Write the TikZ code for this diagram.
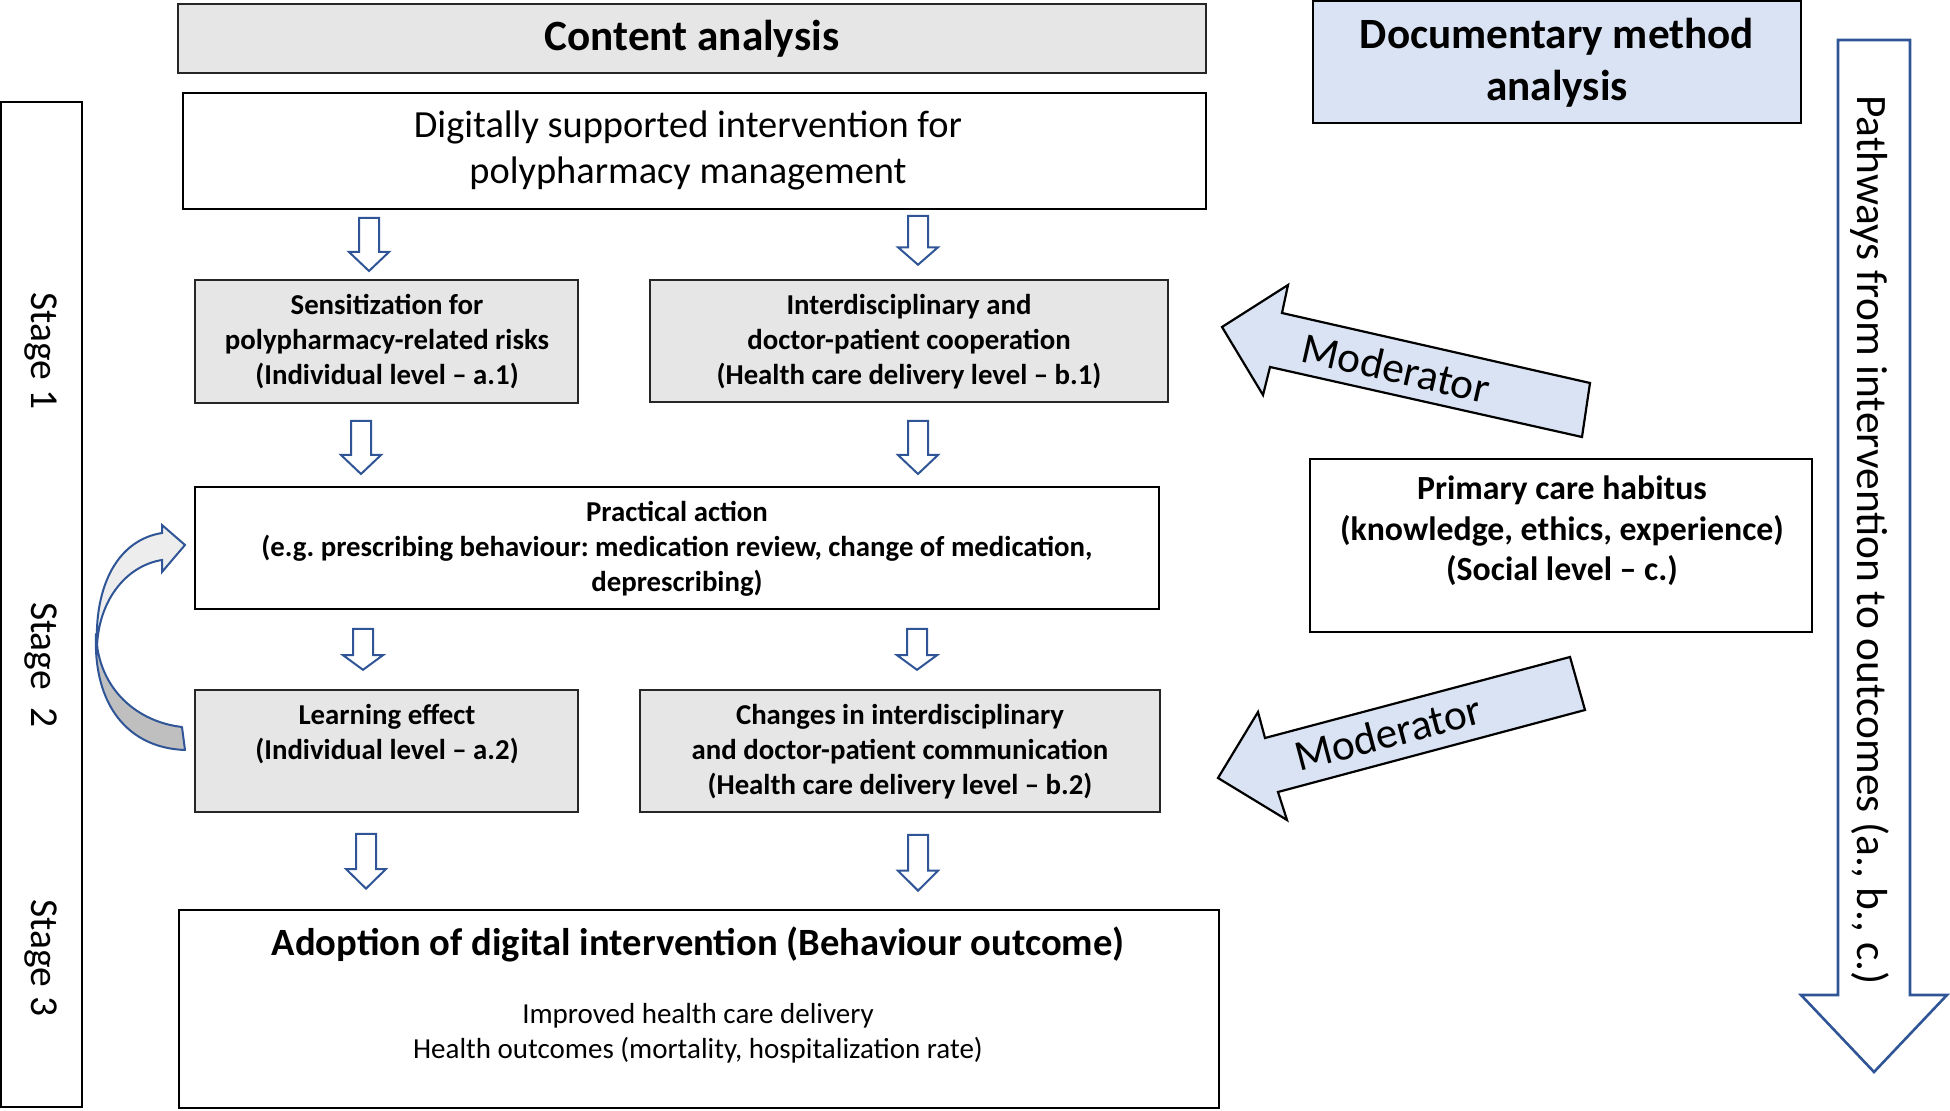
\documentclass[tikz,border=0pt]{standalone}
\usepackage{fontspec}
\setmainfont{Carlito}
\frenchspacing
\definecolor{boxgray}{RGB}{231,230,230}
\definecolor{lightblue}{RGB}{218,227,243}
\definecolor{arrowblue}{RGB}{47,85,151}
\definecolor{curvedark}{RGB}{191,191,191}
\definecolor{curvelight}{RGB}{237,237,237}
\begin{document}
\begin{tikzpicture}[x=0.5pt,y=-0.5pt,
  wbox/.style={draw=black,line width=1.2pt,fill=white,inner sep=0pt},
  gbox/.style={draw=black!85,line width=0.9pt,fill=boxgray,inner sep=0pt},
  bbox/.style={draw=black,line width=1.2pt,fill=lightblue,inner sep=0pt},
  btxt/.style={font=\bfseries\fontsize{14.4}{17.5}\selectfont,align=center,inner sep=0pt},
  rtxt/.style={font=\fontsize{14.5}{17.5}\selectfont,align=center,inner sep=0pt},
  hollowdown/.pic={\draw[arrowblue,line width=1pt,fill=white,line join=miter]
     (-10,0) -- (10,0) -- (10,34) -- (20,34) -- (0,53) -- (-20,34) -- (-10,34) -- cycle;},
  modarrow/.style={draw=black,line width=1.1pt,fill=lightblue,line join=miter}
]
\useasboundingbox (0,0) rectangle (1950,1111);

% Stage column
\node[wbox,minimum width=40.5pt,minimum height=502.5pt] (stage) at (41.5,604.5) {};
\node[font=\fontsize{19.8}{22}\selectfont,rotate=-90] (s1) at (41,351) {Stage 1};
\node[font=\fontsize{19.8}{22}\selectfont,rotate=-90] (s2) at (41,665) {Stage~~2};
\node[font=\fontsize{19.8}{22}\selectfont,rotate=-90] (s3) at (41,958) {Stage 3};

% Header boxes
\node[gbox,line width=1.2pt,minimum width=514pt,minimum height=34.5pt,
      font=\bfseries\fontsize{21.6}{25}\selectfont] (content) at (692,38.5) {Content analysis};
\node[bbox,minimum width=244pt,minimum height=61pt] (doc) at (1557,62) {};
\node[font=\bfseries\fontsize{21.6}{26}\selectfont,align=center] (doctxt) at (1557,63) {Documentary method\\analysis};

% Intervention box
\node[wbox,minimum width=511.5pt,minimum height=58pt] (digital) at (694.5,151) {};
\node[font=\fontsize{19.2}{23}\selectfont,align=center] (digtxt) at (688,150) {Digitally supported intervention for\\polypharmacy management};

% Stage 1 boxes
\node[gbox,minimum width=191.5pt,minimum height=61.5pt] (sens) at (386.5,341.5) {};
\node[btxt] (senstxt) at (387,342) {Sensitization for\\polypharmacy-related risks\\(Individual level -- a.1)};
\node[gbox,minimum width=259pt,minimum height=61pt] (inter) at (909,341) {};
\node[btxt] (intertxt) at (909,342) {Interdisciplinary and\\doctor-patient cooperation\\(Health care delivery level -- b.1)};

% Practical action
\node[wbox,line width=1pt,minimum width=482pt,minimum height=61pt] (prac) at (677,548) {};
\node[btxt] (practxt) at (677,549) {Practical action\\(e.g. prescribing behaviour: medication review, change of medication,\\deprescribing)};

% Stage 2 boxes
\node[gbox,minimum width=191.5pt,minimum height=61pt] (learn) at (386.5,751) {};
\node[btxt] (learntxt) at (387,734) {Learning effect\\(Individual level -- a.2)};
\node[gbox,minimum width=260pt,minimum height=61pt] (changes) at (900,751) {};
\node[btxt] (changestxt) at (900,752) {Changes in interdisciplinary\\and doctor-patient communication\\(Health care delivery level -- b.2)};

% Adoption
\node[wbox,minimum width=520pt,minimum height=99pt] (adopt) at (699,1009) {};
\node[font=\bfseries\fontsize{19.3}{22}\selectfont] (adopttitle) at (698,944) {Adoption of digital intervention (Behaviour outcome)};
\node[rtxt] (adoptsub) at (698,1033) {Improved health care delivery\\Health outcomes (mortality, hospitalization rate)};

% Primary care habitus
\node[wbox,line width=1pt,minimum width=251pt,minimum height=86.5pt] (prim) at (1561,545.5) {};
\node[font=\bfseries\fontsize{16.9}{20.3}\selectfont,align=center] (primtxt) at (1562,531) {Primary care habitus\\(knowledge, ethics, experience)\\(Social level -- c.)};

% Hollow down arrows
\coordinate (a1l) at (369,218); \coordinate (a1r) at (918,216);
\coordinate (a2l) at (361,421); \coordinate (a2r) at (918,421);
\coordinate (a3l) at (363,629); \coordinate (a3r) at (917,629);
\coordinate (a4l) at (366,834); \coordinate (a4r) at (918,835);
\pic at (a1l) {hollowdown};
\pic[yscale=0.92] at (a1r) {hollowdown};
\pic at (a2l) {hollowdown};
\pic at (a2r) {hollowdown};
\pic[yscale=0.77] at (a3l) {hollowdown};
\pic[yscale=0.77] at (a3r) {hollowdown};
\pic[yscale=1.03] at (a4l) {hollowdown};
\pic[yscale=1.05] at (a4r) {hollowdown};

% Moderator arrows
\draw[modarrow] (1222,327) -- (1288,285) -- (1282,313) -- (1590,383) -- (1582,437)
  -- (1270,367) -- (1263,395) -- cycle;
\node[font=\fontsize{21.7}{24}\selectfont,rotate=-12.8] (mod1) at (1396,368) {Moderator};
\draw[modarrow] (1218,778) -- (1258,712) -- (1265,738) -- (1570,657) -- (1585,710)
  -- (1278,792) -- (1287,820) -- cycle;
\node[font=\fontsize{21.7}{24}\selectfont,rotate=14.8] (mod2) at (1388,733) {Moderator};

% Pathways arrow
\draw[arrowblue,line width=1.3pt,fill=white,line join=miter]
  (1838,40) -- (1910,40) -- (1910,995) -- (1947,995) -- (1874,1072) -- (1801,995) -- (1838,995) -- cycle;
\node[font=\fontsize{21.7}{24}\selectfont,rotate=-90] (path) at (1870,540) {Pathways from intervention to outcomes (a., b., c.)};

% Curved feedback arrow
\draw[arrowblue,line width=1pt,fill=curvedark,line join=round]
  (96,634) .. controls (98,690) and (138,722) .. (182,727) -- (185,750)
  .. controls (128,748) and (93,705) .. (96,634) -- cycle;
\draw[arrowblue,line width=1pt,fill=curvelight,line join=miter]
  (97,648) .. controls (98,602) and (125,566) .. (162,560) -- (162,572) -- (185,545)
  -- (162,525) -- (162,533) .. controls (118,540) and (94,585) .. (97,648) -- cycle;
\end{tikzpicture}
\end{document}
